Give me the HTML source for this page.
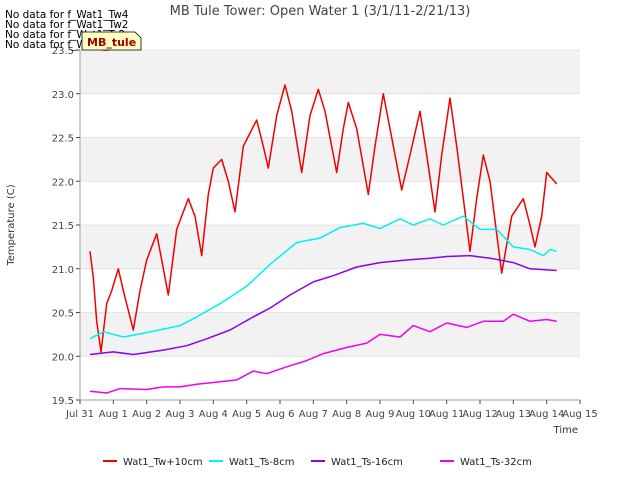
<!DOCTYPE html>
<html><head><meta charset="utf-8"><style>
body{margin:0;background:#fff;font-family:"Liberation Sans","DejaVu Sans",sans-serif}
svg text{font-family:"DejaVu Sans","Liberation Sans",sans-serif}
</style></head><body>
<svg id="chart" width="640" height="480" xmlns="http://www.w3.org/2000/svg">
<rect width="640" height="480" fill="#fff"/>
<g id="bands"></g>
<g id="grid"></g>
<g id="series"></g>
<g id="axes"></g>
<text x="320" y="15" text-anchor="middle" font-size="13" fill="#444">MB Tule Tower: Open Water 1 (3/1/11-2/21/13)</text>
<text x="14" y="225" transform="rotate(-90 14 225)" text-anchor="middle" font-size="10" fill="#333">Temperature (C)</text>
<text x="578" y="433" text-anchor="end" font-size="10" fill="#333">Time</text>
<g font-size="10.5" fill="#000">
<text x="5" y="18">No data for f_Wat1_Tw4</text>
<text x="5" y="28">No data for f_Wat1_Tw2</text>
<text x="5" y="38">No data for f_Wat1_Ts2</text>
<text x="5" y="48">No data for f_Wat1_Ts4</text>
</g>
<g>
<path d="M82,32 L135,32 L141,38 L141,50 L82,50 Z" fill="#ffffc0" stroke="#000" stroke-width="0.8"/>
<text x="87" y="46" font-size="11" font-weight="bold" fill="#a00000">MB_tule</text>
</g>
<g id="legend"></g>
</svg>
<script>
const yTicks=[19.5,20.0,20.5,21.0,21.5,22.0,22.5,23.0,23.5];
const xTickLabels=["Jul 31","Aug 1","Aug 2","Aug 3","Aug 4","Aug 5","Aug 6","Aug 7","Aug 8","Aug 9","Aug 10","Aug 11","Aug 12","Aug 13","Aug 14","Aug 15"];
const seriesNames=["Wat1_Tw+10cm","Wat1_Ts-8cm","Wat1_Ts-16cm","Wat1_Ts-32cm"];
const seriesColors=["#ee0000","#00f0f0","#8a00f0","#f000f0"];
const twDays=[0.3,0.4,0.5,0.63,0.8,0.95,1.15,1.3,1.6,1.8,2.0,2.3,2.45,2.65,2.9,3.25,3.45,3.65,3.85,4.0,4.25,4.45,4.65,4.9,5.1,5.3,5.5,5.65,5.9,6.15,6.35,6.65,6.9,7.15,7.35,7.7,7.9,8.05,8.3,8.65,8.85,9.1,9.3,9.65,9.9,10.2,10.4,10.65,10.85,11.1,11.3,11.7,11.9,12.1,12.3,12.65,12.95,13.3,13.5,13.65,13.85,14.0,14.3];
const twVals=[21.2,20.9,20.4,20.05,20.6,20.75,21.0,20.75,20.3,20.75,21.1,21.4,21.1,20.7,21.45,21.8,21.6,21.15,21.85,22.15,22.25,22.0,21.65,22.4,22.55,22.7,22.4,22.15,22.75,23.1,22.8,22.1,22.75,23.05,22.8,22.1,22.6,22.9,22.6,21.85,22.4,23.0,22.6,21.9,22.3,22.8,22.3,21.65,22.3,22.95,22.4,21.2,21.8,22.3,22.0,20.95,21.6,21.8,21.5,21.25,21.6,22.1,21.97];
const ts8Days=[0.3,0.7,1.3,2.0,3.0,3.5,4.2,5.0,5.7,6.5,7.2,7.8,8.5,9.0,9.6,10.0,10.5,10.9,11.5,12.0,12.5,13.0,13.5,13.9,14.1,14.3];
const ts8Vals=[20.2,20.28,20.22,20.27,20.35,20.45,20.6,20.8,21.05,21.3,21.35,21.47,21.52,21.46,21.57,21.5,21.57,21.5,21.6,21.45,21.45,21.25,21.22,21.15,21.22,21.2];
const ts16Days=[0.3,1.0,1.6,2.5,3.2,3.8,4.5,5.2,5.7,6.3,7.0,7.6,8.3,9.0,9.8,10.5,11.0,11.7,12.3,13.0,13.5,14.3];
const ts16Vals=[20.02,20.05,20.02,20.07,20.12,20.2,20.3,20.45,20.55,20.7,20.85,20.92,21.02,21.07,21.1,21.12,21.14,21.15,21.12,21.07,21.0,20.98];
const ts32Days=[0.3,0.8,1.2,2.0,2.5,3.0,3.5,4.0,4.7,5.2,5.6,6.2,6.8,7.3,8.0,8.6,9.0,9.6,10.0,10.5,11.0,11.6,12.1,12.7,13.0,13.5,14.0,14.3];
const ts32Vals=[19.6,19.58,19.63,19.62,19.65,19.65,19.68,19.7,19.73,19.83,19.8,19.88,19.95,20.03,20.1,20.15,20.25,20.22,20.35,20.28,20.38,20.33,20.4,20.4,20.48,20.4,20.42,20.4];

const X0=80,X1=580,Y0=400,Y1=50;
const xs=d=>X0+(X1-X0)*d/15;
const ys=v=>Y0-(Y0-Y1)*(v-19.5)/4;
const NS="http://www.w3.org/2000/svg";
function mk(tag,attrs,parent){const e=document.createElementNS(NS,tag);for(const k in attrs)e.setAttribute(k,attrs[k]);parent.appendChild(e);return e;}
const bands=document.getElementById('bands'),grid=document.getElementById('grid'),axes=document.getElementById('axes'),series=document.getElementById('series'),legend=document.getElementById('legend');
const bg=mk('rect',{x:X0,y:Y1,width:X1-X0,height:Y0-Y1,fill:'#fff'},bands);


for(let i=0;i<yTicks.length-1;i++){
  if(i%2===1){const b=mk('rect',{x:X0,y:ys(yTicks[i+1]),width:X1-X0,height:ys(yTicks[i])-ys(yTicks[i+1]),fill:'#f2f2f2'},bands);
  
  }
}
yTicks.forEach(v=>{
  const g=mk('line',{x1:X0,x2:X1,y1:ys(v),y2:ys(v),stroke:'#dcdcdc','stroke-width':0.8},grid);
  
  
  mk('line',{x1:X0-4,x2:X0,y1:ys(v),y2:ys(v),stroke:'#444'},axes);
  const t=mk('text',{x:X0-6,y:ys(v)+4,'text-anchor':'end','font-size':10,fill:'#444'},axes);
  t.textContent=v.toFixed(1);
  
  
});
xTickLabels.forEach((l,i)=>{
  mk('line',{x1:xs(i),x2:xs(i),y1:Y0,y2:Y0+4,stroke:'#444'},axes);
  const t=mk('text',{x:xs(i),y:Y0+17,'text-anchor':'middle','font-size':10,fill:'#444'},axes);
  t.textContent=l;
  
  
});
const ax=mk('path',{d:`M${X0},${Y1}V${Y0}H${X1}`,fill:'none',stroke:'#888','stroke-width':0.8},axes);


const data=[[twDays,twVals],[ts8Days,ts8Vals],[ts16Days,ts16Vals],[ts32Days,ts32Vals]];
const sNames=['series-tw-10cm','series-ts-8cm','series-ts-16cm','series-ts-32cm'];
data.forEach((s,i)=>{
  const pts=s[0].map((d,j)=>xs(d).toFixed(1)+','+ys(s[1][j]).toFixed(1)).join(' ');
  const p=mk('polyline',{points:pts,fill:'none',stroke:seriesColors[i],'stroke-width':1.5,'stroke-linejoin':'round'},series);
  
  
});
const lx=[103,209,311,440];
seriesNames.forEach((n,i)=>{
  const g=mk('g',{},legend);
  
  
  mk('line',{x1:lx[i],x2:lx[i]+14,y1:461,y2:461,stroke:seriesColors[i],'stroke-width':2},g);
  const t=mk('text',{x:lx[i]+20,y:465,'font-size':10,fill:'#222'},g);
  t.textContent=n;
});
</script>
</body></html>
